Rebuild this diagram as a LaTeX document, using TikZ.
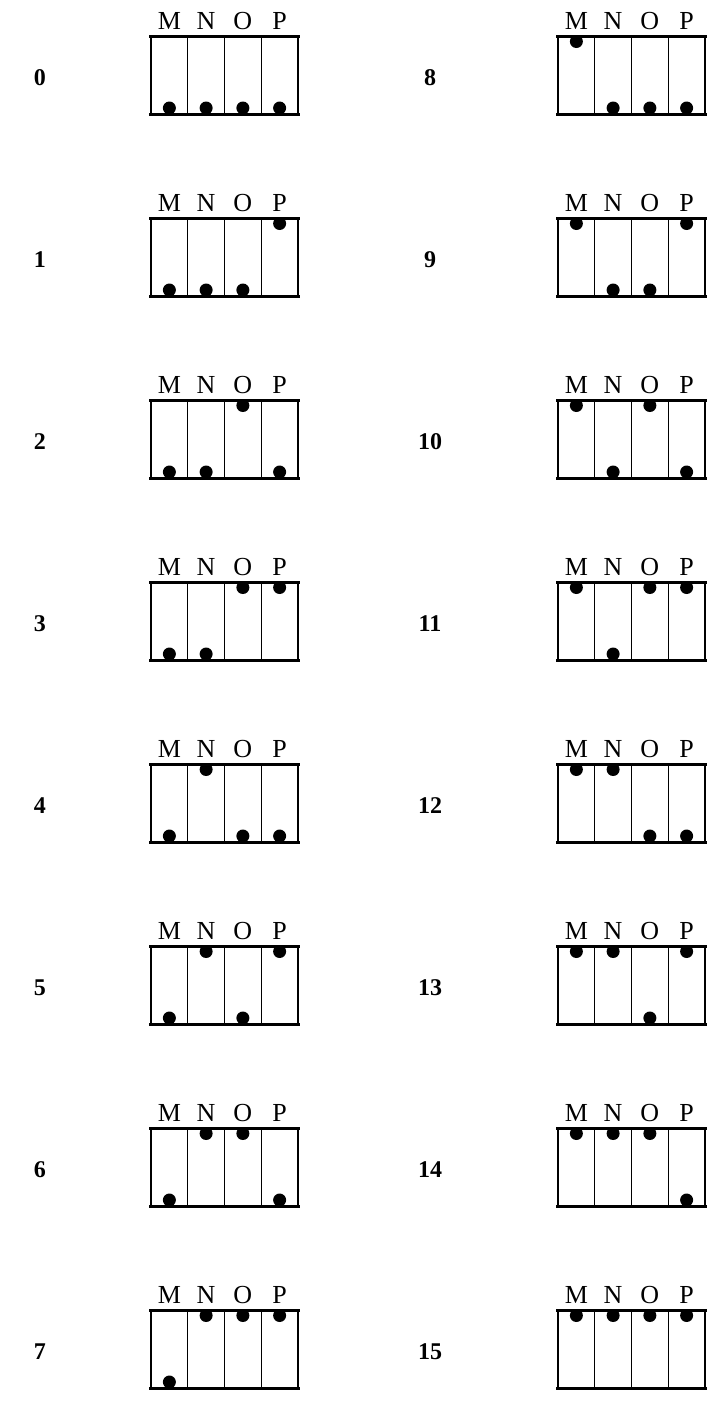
\documentclass[tikz,border=0pt]{standalone}
\usepackage{fontspec}
\setmainfont{Liberation Serif}
\begin{document}
\begin{tikzpicture}[x=1pt,y=-1pt,
  cellbox/.style={draw, line width=1.8pt, minimum width=147pt, minimum height=77pt, inner sep=0pt},
  rim/.style={line width=3pt},
  divider/.style={line width=1.2pt},
  letter/.style={anchor=base, inner sep=0pt, font=\fontsize{26}{29}\selectfont},
  number/.style={inner sep=0pt, font=\fontsize{24}{27}\selectfont\bfseries},
  bead/.style={fill=black}]
\useasboundingbox (0,0) rectangle (716,1401);
\foreach \n in {0,...,15} {
  \pgfmathtruncatemacro\col{floor(\n/8)}
  \pgfmathtruncatemacro\row{\n-8*\col}
  \pgfmathsetmacro\bx{\col==0 ? 151 : 558}
  \pgfmathsetmacro\nx{\col==0 ? 40 : 430}
  \pgfmathsetmacro\by{37+182*\row}
  % row number
  \node[number] (num\n) at (\nx,\by+41) {\n};
  % frame of the four switches
  \node[cellbox] (box\n) at (\bx+73.5,\by+38.5) {};
  \draw[rim] ([xshift=-1pt]box\n.north west) -- ([xshift=1pt]box\n.north east);
  \draw[rim] ([xshift=-1pt]box\n.south west) -- ([xshift=1pt]box\n.south east);
  \foreach \j in {1,2,3}
    \draw[divider] (\bx+36.75*\j,\by) -- (\bx+36.75*\j,\by+77);
  % letters and beads: a set bit puts the bead at the top
  \foreach \j/\L in {0/M,1/N,2/O,3/P} {
    \pgfmathsetmacro\cx{\bx+36.75*(\j+0.5)}
    \pgfmathtruncatemacro\bit{mod(floor(\n/2^(3-\j)),2)}
    \node[letter] (lab\n\L) at (\cx,\by-8) {\L};
    \begin{scope}
      \clip (\bx,\by) rectangle (\bx+147,\by+77);
      \ifnum\bit=1
        \fill[bead] (\cx,\by+4.5) circle (6.5);
      \else
        \fill[bead] (\cx,\by+71) circle (6.5);
      \fi
    \end{scope}
  }
}
\end{tikzpicture}
\end{document}
